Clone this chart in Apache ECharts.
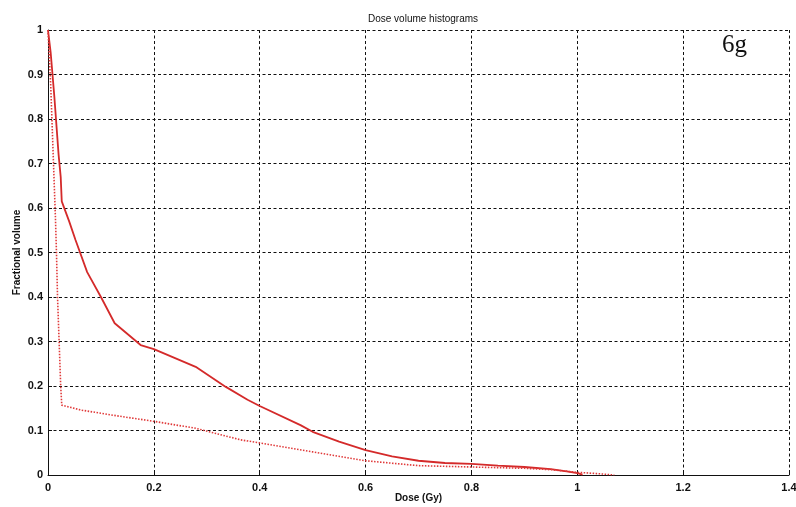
<!DOCTYPE html>
<html>
<head>
<meta charset="utf-8">
<script src="https://cdn.jsdelivr.net/npm/echarts@6/dist/echarts.min.js"></script>
<style>html,body{margin:0;padding:0;background:#fff;}#c{width:796px;height:507px;}</style>
</head>
<body>
<div id="c"></div>
<script>
// Dose (Gy) values and fractional volumes
const solidDose = [0, 0.005, 0.012, 0.02, 0.024, 0.026, 0.04, 0.052, 0.074, 0.1, 0.126, 0.175, 0.2, 0.279, 0.336, 0.377, 0.4, 0.477, 0.5, 0.55, 0.6, 0.65, 0.7, 0.75, 0.8, 0.85, 0.9, 0.95, 0.98, 1.0, 1.01];
const solidVol  = [1, 0.95, 0.85, 0.72, 0.67, 0.615, 0.57, 0.528, 0.456, 0.4, 0.341, 0.292, 0.283, 0.243, 0.198, 0.169, 0.155, 0.112, 0.097, 0.075, 0.056, 0.042, 0.032, 0.027, 0.025, 0.021, 0.018, 0.013, 0.008, 0.004, 0.001];
const dottedDose = [0, 0.002, 0.005, 0.008, 0.011, 0.014, 0.016, 0.018, 0.021, 0.024, 0.026, 0.062, 0.13, 0.198, 0.279, 0.364, 0.4, 0.5, 0.6, 0.7, 0.8, 0.9, 0.95, 1.0, 1.04, 1.07];
const dottedVol  = [1, 0.95, 0.88, 0.78, 0.68, 0.58, 0.5, 0.4, 0.3, 0.2, 0.157, 0.146, 0.133, 0.121, 0.105, 0.079, 0.072, 0.052, 0.032, 0.021, 0.018, 0.015, 0.012, 0.006, 0.003, 0.0];
const xTickLabels = ['0', '0.2', '0.4', '0.6', '0.8', '1', '1.2', '1.4'];
const yTickLabels = ['0', '0.1', '0.2', '0.3', '0.4', '0.5', '0.6', '0.7', '0.8', '0.9', '1'];

const chart = echarts.init(document.getElementById('c'), null, {renderer: 'canvas'});
const pair = (xs, ys) => xs.map((x, i) => [x, ys[i]]);
const labelFont = {color: '#111', fontFamily: 'Liberation Sans, Arial, sans-serif', fontSize: 11, fontWeight: 'bold'};
const gridLine = {show: true, lineStyle: {color: '#111', type: [3, 2.5], width: 1}};
chart.setOption({
  animation: false,
  backgroundColor: '#fff',
  title: {
    text: 'Dose volume histograms',
    left: 418, top: 9, textAlign: 'center',
    textStyle: {fontFamily: 'Liberation Sans, Arial, sans-serif', fontSize: 10, fontWeight: 'normal', color: '#111'}
  },
  graphic: [{
    type: 'text', left: 722, top: 33,
    style: {text: '6g', font: '25px "Liberation Serif", "DejaVu Serif", serif', fill: '#111'}
  }],
  grid: {left: 48, right: 7, top: 30, bottom: 32, containLabel: false, outerBoundsMode: 'none'},
  xAxis: {
    type: 'value', min: 0, max: 1.4, interval: 0.2,
    name: 'Dose (Gy)', nameLocation: 'middle', nameGap: 18,
    nameMoveOverlap: false,
    nameTextStyle: {color: '#111', fontFamily: 'Liberation Sans, Arial, sans-serif', fontSize: 10, fontWeight: 'bold'},
    axisLine: {show: true, lineStyle: {color: '#111', width: 1}},
    axisTick: {show: true, inside: true, length: 4, lineStyle: {color: '#111'}},
    axisLabel: Object.assign({margin: 7, formatter: (v) => xTickLabels[Math.round(v / 0.2)]}, labelFont),
    splitLine: gridLine
  },
  yAxis: {
    type: 'value', min: 0, max: 1, interval: 0.1,
    name: 'Fractional volume', nameLocation: 'middle', nameGap: 26, nameRotate: 90,
    nameMoveOverlap: false,
    nameTextStyle: {color: '#111', fontFamily: 'Liberation Sans, Arial, sans-serif', fontSize: 10, fontWeight: 'bold'},
    axisLine: {show: true, lineStyle: {color: '#111', width: 1}},
    axisTick: {show: true, inside: true, length: 4, lineStyle: {color: '#111'}},
    axisLabel: Object.assign({margin: 5, formatter: (v) => yTickLabels[Math.round(v / 0.1)]}, labelFont),
    splitLine: gridLine
  },
  series: [
    {type: 'line', data: pair(solidDose, solidVol), showSymbol: false, lineStyle: {color: '#d42a2a', width: 1.8}, z: 3},
    {type: 'line', data: pair(dottedDose, dottedVol), showSymbol: false, lineStyle: {color: '#e03a3a', width: 1.6, type: [1.5, 1.5]}, z: 3}
  ]
});
</script>
</body>
</html>
